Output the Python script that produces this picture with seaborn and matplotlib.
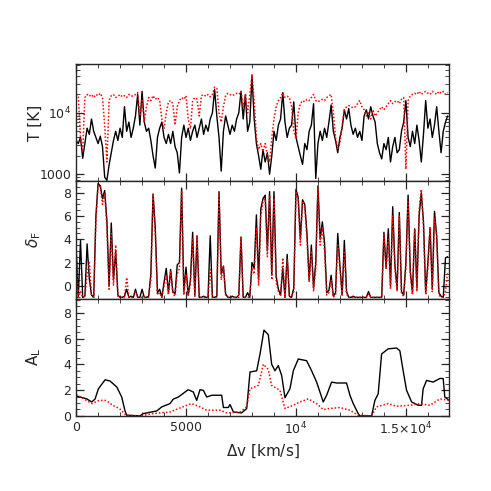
import numpy as np
import pandas as pd
import seaborn as sns
import matplotlib
matplotlib.use('Agg')
import matplotlib.pyplot as plt
from matplotlib.ticker import MultipleLocator, FixedLocator, LogLocator, NullFormatter

# velocity grid for T and delta_F panels, km/s (step 100)
v_grid = np.arange(0, 17000, 100)

# log10 T, black (solid) and red (dotted)
logT_black = [3.55, 3.5, 3.6, 3.26, 3.5, 3.75, 3.65, 3.9, 3.7, 3.6,
              3.5, 3.62, 3.45, 2.95, 2.9, 3.15, 3.35, 3.55, 3.7, 3.55,
              3.75, 3.6, 4.1, 3.7, 3.85, 3.6, 3.75, 3.95, 4.3, 3.8,
              4.35, 3.85, 3.7, 3.75, 3.55, 3.3, 3.1, 3.6, 3.75, 3.85,
              3.6, 3.5, 3.65, 3.5, 3.7, 3.45, 3.35, 3.02, 3.6, 3.8,
              3.6, 3.75, 3.55, 3.7, 3.8, 3.6, 3.75, 3.9, 3.65, 3.8,
              3.7, 3.9, 4.0, 4.38, 3.95, 3.6, 3.05, 3.7, 3.95, 3.8,
              3.65, 3.8, 3.7, 3.9, 4.0, 4.35, 3.9, 4.3, 3.7, 3.85,
              4.6, 3.9, 3.5, 3.3, 3.08, 3.4, 3.2, 3.35, 3.0, 3.3,
              3.7, 3.55, 3.8, 3.9, 4.33, 3.85, 3.6, 3.75, 3.8, 4.18,
              3.6, 3.45, 3.3, 3.16, 3.5, 3.4, 3.7, 3.8, 4.15, 2.93,
              3.5, 3.7, 3.55, 3.75, 3.6, 3.85, 4.13, 3.7, 3.55, 3.35,
              3.6, 3.75, 4.05, 3.9, 4.07, 3.8, 3.65, 3.75, 3.6, 3.7,
              3.55, 3.95, 4.05, 3.9, 4.1, 3.95, 3.85, 3.5, 3.35, 3.25,
              3.5, 3.4, 3.6, 3.2, 3.45, 3.6, 3.35, 3.4, 3.7, 3.85,
              4.2, 3.6, 3.45, 3.7, 3.5, 3.8, 3.55, 3.2, 3.65, 4.2,
              3.75, 3.9, 3.6, 3.8, 4.1, 3.7, 3.35, 3.7, 3.85, 3.95]
logT_red = [4.3, 4.28, 3.6, 3.37, 4.25, 4.3, 4.27, 4.3, 4.25, 4.3,
            4.28, 4.32, 4.25, 3.8, 3.2, 4.2, 4.28, 4.3, 4.25, 4.27,
            4.3, 4.26, 4.28, 4.25, 4.3, 4.28, 4.27, 4.3, 4.33, 3.95,
            4.2, 3.86, 4.1, 4.25, 4.2, 4.28, 4.22, 4.25, 4.2, 3.9,
            3.74, 4.0, 4.18, 4.2, 4.15, 3.8, 4.1, 4.2, 4.25, 4.22,
            4.28, 3.9, 3.74, 4.2, 4.25, 4.22, 3.95, 4.28, 4.3, 4.27,
            4.3, 4.26, 4.3, 4.42, 4.4, 4.0, 3.85, 4.1, 4.28, 4.32,
            4.3, 4.28, 4.3, 4.32, 4.3, 4.35, 4.1, 4.3, 4.0, 4.3,
            4.62, 4.2, 3.6, 3.4, 3.5, 3.37, 3.5, 3.3, 3.2, 3.6,
            3.9, 4.1, 4.2, 4.25, 4.33, 4.25, 4.27, 4.25, 4.1, 3.7,
            3.58, 4.0, 4.15, 4.2, 4.18, 4.22, 4.2, 4.25, 4.3, 4.2,
            4.18, 4.2, 4.22, 4.2, 4.25, 4.28, 4.3, 4.0, 3.6, 3.42,
            3.5, 3.8, 4.05, 4.1, 4.12, 4.1, 4.08, 4.1, 4.15, 4.2,
            4.1, 4.05, 3.95, 4.0, 3.9, 4.05, 3.95, 4.0, 4.05, 4.1,
            4.05, 4.1, 4.15, 4.2, 4.15, 4.18, 4.2, 4.15, 4.22, 4.25,
            3.08, 4.2, 4.28, 4.3, 4.32, 4.3, 4.35, 4.3, 4.33, 4.35,
            4.32, 4.3, 4.35, 4.33, 4.3, 4.35, 4.32, 4.35, 4.3, 4.33]

# flux contrast delta_F
dF_black = [3.3, -1, 3.9, -1, -0.9, 3.6, 0.6, -0.8, -1, 6.0,
            8.8, 8.6, 7.5, 8.2, 5.6, 0.0, 5.4, 0.5, 3.0, -0.8,
            -1, -1, -0.9, -0.3, -1, -0.9, -1, -0.3, -1, -1,
            -0.3, -1, -1, -0.9, 1.0, 7.9, 5.0, -0.6, -0.3, -1,
            0.3, 1.5, -0.6, 1.4, -0.5, -0.7, 1.8, 2.0, 8.4, -0.5,
            1.6, -0.8, 0.5, 4.6, -0.8, 4.2, -1, -1, -0.9, -1,
            -1, 4.3, -1, -1, -0.9, 8.1, 1.0, 1.7, -0.7, -1,
            -1, -0.9, -1, -1, -0.8, 4.2, -1, -1, -0.6, -1,
            2.0, 1.5, 6.1, 0.5, 6.6, 7.5, 7.8, 3.0, 8.1, 1.0,
            8.1, 0.8, -0.3, -0.8, 1.5, -1, 2.7, -0.9, -1, -0.2,
            8.3, 7.6, 4.0, 7.4, 7.0, 4.5, 0.5, 3.5, -0.2, 2.0,
            8.6, 4.0, 5.5, 3.7, -0.6, -0.4, 0.9, -0.9, -0.6, 4.5,
            1.7, -0.8, 3.9, -0.5, -1, -1, -0.9, -1, -1, -1,
            -1, -1, -1, -0.5, -1, -1, -1, -1, -1, -1,
            4.6, 1.5, 4.9, 0.0, 6.8, 1.8, -0.3, 6.3, -0.5, -0.8,
            2.0, 7.8, 1.2, -0.6, 4.9, -0.2, 6.0, 8.0, 5.5, -0.6,
            2.0, 5.0, -0.3, 6.4, 4.3, -0.6, -0.9, -1, 2.4, 2.5]
dF_red = [3.0, -1, -0.5, -1, -0.9, 1.0, 2.0, -0.8, -1, 5.5,
          8.7, 8.5, 7.0, 8.0, 5.0, -0.3, 4.5, 0.0, 3.5, -0.9,
          -1, -1, -1, 0.7, -1, -1, -1, -0.5, -1, -1,
          -1, -1, -1, -1, 0.5, 7.9, 4.5, -0.8, -0.6, -1,
          0.0, 1.0, -0.8, 1.2, -0.7, -0.9, 1.0, 1.5, 8.2, -0.8,
          1.0, -0.9, 0.2, 4.0, -0.9, 4.4, -1, -1, -1, -1,
          -1, 1.4, -1, -1, -1, 8.0, 0.5, 1.7, -0.8, -1,
          -1, -1, -1, -1, -1, 4.2, -1, -1, -1, -1,
          1.5, 1.0, 5.0, 0.0, 6.0, 7.2, 7.5, 2.5, 7.8, 0.5,
          7.5, 0.3, -0.5, -0.9, 2.4, -1, 2.3, -1, -1, -0.5,
          8.1, 7.4, 3.5, 7.3, 6.8, 4.0, 0.3, 3.0, -0.5, 1.5,
          8.4, 3.5, 5.0, 3.0, -0.8, -0.6, 0.5, -1, -0.8, 3.5,
          1.5, -0.9, 3.0, -0.7, -1, -1, -1, -1, -1, -1,
          -1, -1, -1, -0.7, -1, -1, -1, -1, -1, -1,
          4.4, 1.5, 4.0, -0.3, 6.0, 1.5, -0.5, 6.0, -0.7, -0.9,
          1.5, 7.2, 1.0, -0.8, 4.9, -0.5, 6.5, 8.3, 5.0, -0.8,
          1.5, 5.0, -0.5, 5.8, 4.3, -0.8, -1, -1, -0.5, 1.2]

# A_L, read at irregular velocities
vA_black = [0, 485, 710, 860, 1015, 1320, 1545, 1850, 2075, 2225, 2300, 2900,
            3060, 3665, 3900, 4270, 4420, 4650, 4955, 5100, 5330, 5485, 5635,
            5790, 5940, 6170, 6620, 6700, 6925, 7000, 7155, 7530, 7760, 7910,
            8215, 8365, 8545, 8740, 8895, 9045, 9195, 9350, 9500, 9725, 9880,
            10105, 10485, 10710, 10940, 11240, 11395, 11620, 11850, 12300,
            12455, 12605, 12830, 12910, 13440, 13590, 13740, 13895, 14195,
            14575, 14725, 14875, 15030, 15260, 15560, 15710, 15785, 15940,
            16240, 16545, 16695, 16770, 16965]
AL_black = [1.55, 1.32, 1.08, 1.3, 2.1, 2.8, 2.7, 2.24, 1.46, 0.38, 0.05, 0.0,
            0.18, 0.38, 0.7, 0.95, 1.3, 1.46, 1.85, 2.03, 1.85, 1.2, 2.03,
            1.98, 1.46, 1.6, 1.6, 0.65, 0.65, 0.88, 0.3, 0.23, 0.57, 3.4,
            3.5, 4.8, 6.65, 6.3, 4.0, 3.5, 3.9, 3.13, 1.41, 2.1, 3.5,
            4.41, 4.28, 3.5, 2.62, 1.08, 1.6, 2.62, 2.55, 2.55,
            1.6, 0.95, 0.18, 0.0, 0.0, 1.2, 1.72, 4.8, 5.2,
            5.26, 5.05, 3.5, 1.98, 1.08, 0.82, 0.82, 2.1, 2.75,
            2.62, 2.9, 2.9, 1.46, 1.2]
vA_red = [0, 710, 1060, 1365, 1665, 1970, 2270, 2900, 3515, 4270, 5030, 5255,
          5635, 5940, 6545, 6850, 7455, 7760, 7910, 8290, 8515, 8740, 8895,
          9270, 9500, 9880, 10180, 10560, 10940, 11240, 11545, 12000, 12455,
          12830, 13440, 13665, 14195, 14575, 15180, 15635, 16090, 16545, 16965]
AL_red = [1.67, 0.95, 1.2, 1.2, 0.82, 0.57, 0.05, 0.0, 0.18, 0.3, 0.82, 0.95,
          0.7, 0.44, 0.44, 0.23, 0.3, 0.7, 2.1, 2.36, 4.0, 3.6, 2.36,
          1.98, 0.57, 0.82, 1.08, 1.32, 0.95, 0.49, 0.57, 0.65, 0.44,
          0.05, 0.0, 0.7, 0.95, 0.75, 0.82, 0.95, 0.82, 1.32, 1.2]

sns.set_style("ticks")
plt.rcParams.update({
    'font.family': ['DejaVu Sans'],
    'xtick.direction': 'in', 'ytick.direction': 'in',
    'xtick.top': True, 'ytick.right': True,
    'xtick.major.size': 6, 'ytick.major.size': 6,
    'xtick.minor.size': 3, 'ytick.minor.size': 3,
    'xtick.major.width': 0.9, 'ytick.major.width': 0.9,
    'axes.linewidth': 1.0,
    'xtick.labelsize': 9, 'ytick.labelsize': 9,
})

dots = (0, (1, 1.3))

df_T = pd.DataFrame({'v': v_grid, 'black': 10 ** np.array(logT_black), 'red': 10 ** np.array(logT_red)})
df_F = pd.DataFrame({'v': v_grid, 'black': dF_black, 'red': dF_red})

fig, axes = plt.subplots(3, 1, figsize=(4.91, 4.91), dpi=100, sharex=True)
fig.subplots_adjust(left=0.155, right=0.914, top=0.870, bottom=0.153, hspace=0)
ax1, ax2, ax3 = axes

sns.lineplot(data=df_T, x='v', y='black', ax=ax1, color='black', lw=1.0, estimator=None)
sns.lineplot(data=df_T, x='v', y='red', ax=ax1, color='red', lw=1.1, ls=dots, estimator=None)
ax1.set_yscale('log')
ax1.set_ylim(770, 6.3e4)
ax1.yaxis.set_major_locator(FixedLocator([1000, 10000]))
ax1.set_yticklabels(['1000', r'$10^4$'])
ax1.yaxis.set_minor_locator(LogLocator(base=10, subs=np.arange(2, 10)))
ax1.yaxis.set_minor_formatter(NullFormatter())
ax1.set_ylabel('T [K]', fontsize=11)

sns.lineplot(data=df_F, x='v', y='black', ax=ax2, color='black', lw=1.0, estimator=None)
sns.lineplot(data=df_F, x='v', y='red', ax=ax2, color='red', lw=1.1, ls=dots, estimator=None)
ax2.set_ylim(-1.1, 9.0)
ax2.yaxis.set_major_locator(FixedLocator([0, 2, 4, 6, 8]))
ax2.yaxis.set_minor_locator(MultipleLocator(0.5))
ax2.set_ylabel(r'$\delta_{\rm F}$', fontsize=11)

sns.lineplot(x=vA_black, y=AL_black, ax=ax3, color='black', lw=1.0, estimator=None)
sns.lineplot(x=vA_red, y=AL_red, ax=ax3, color='red', lw=1.1, ls=dots, estimator=None)
ax3.set_ylim(0, 9.1)
ax3.yaxis.set_major_locator(FixedLocator([0, 2, 4, 6, 8]))
ax3.yaxis.set_minor_locator(MultipleLocator(0.5))
ax3.set_ylabel(r'A$_{\rm L}$', fontsize=11)

ax3.set_xlim(0, 16950)
ax3.xaxis.set_major_locator(FixedLocator([0, 5000, 10000, 15000]))
ax3.set_xticklabels(['0', '5000', r'$10^4$', r'1.5$\times10^4$'])
ax3.xaxis.set_minor_locator(MultipleLocator(1000))
ax3.set_xlabel(r'$\Delta$v [km/s]', fontsize=11)

for ax in axes:
    ax.yaxis.set_label_coords(-0.09, 0.5)
    ax.tick_params(which='both', top=True, right=True)
    if ax is not ax3:
        ax.set_xlabel('')

fig.savefig('out.png', dpi=100)
